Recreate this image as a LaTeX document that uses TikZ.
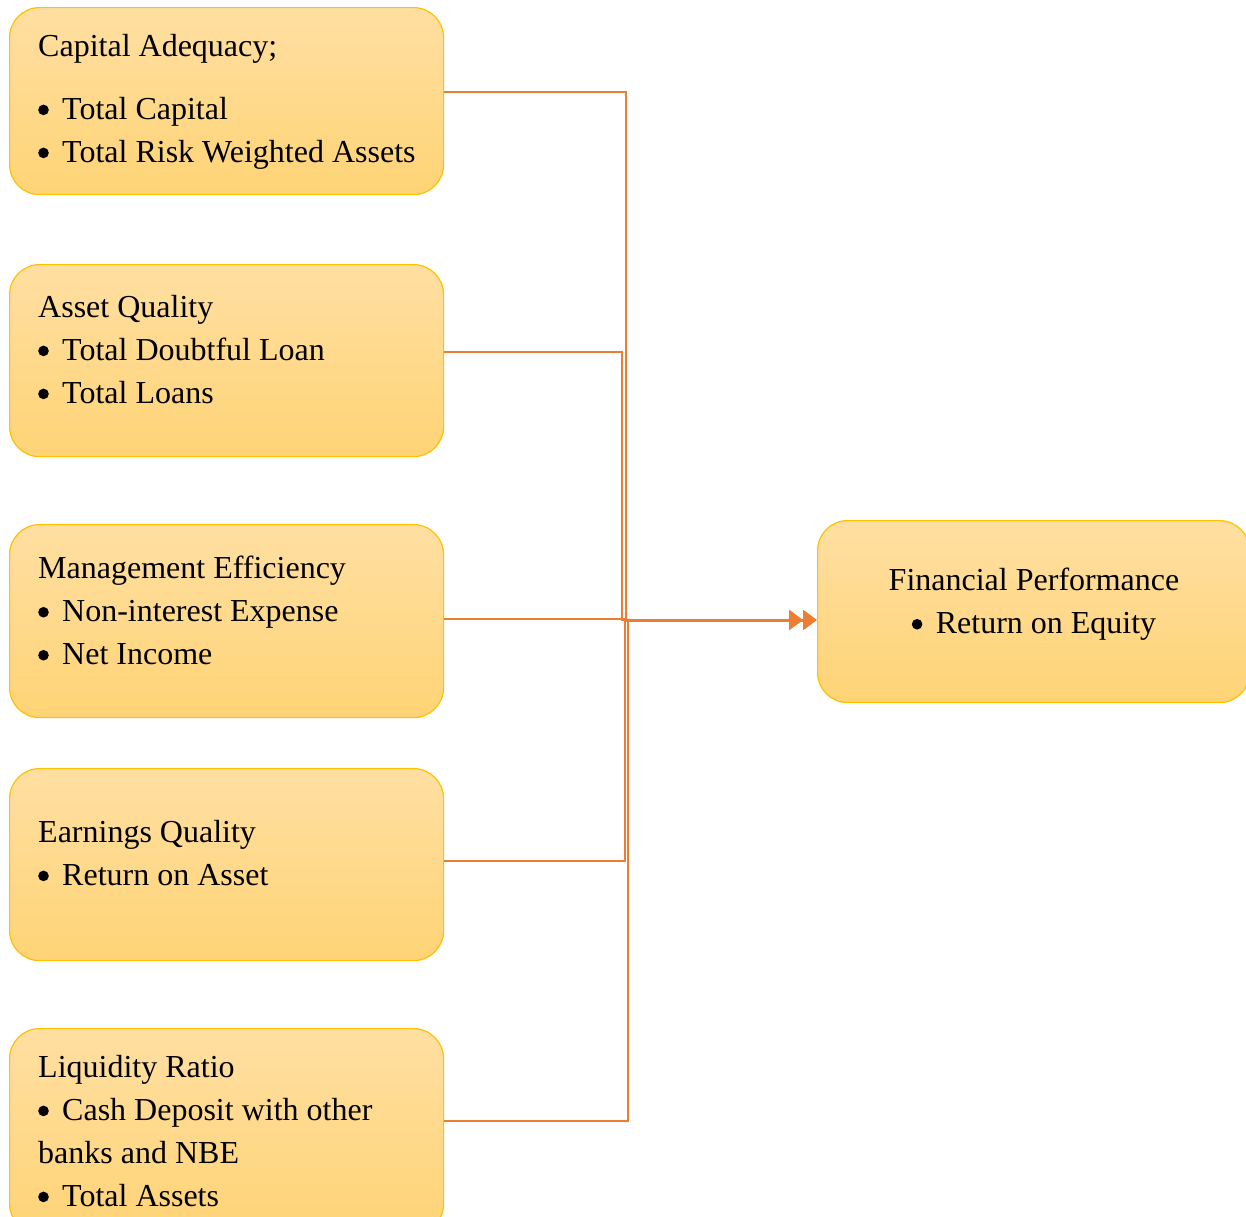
\documentclass[tikz,border=0pt]{standalone}
\usepackage{fontspec}
\setmainfont{Liberation Serif}
\usetikzlibrary{arrows.meta}
\definecolor{boxtop}{RGB}{255,223,162}
\definecolor{boxbot}{RGB}{255,212,118}
\definecolor{boxline}{RGB}{255,192,0}
\definecolor{conn}{RGB}{237,125,49}
\newcommand\bul{\makebox[24pt][l]{\tikz[baseline=0pt,x=1pt,y=1pt]\fill[black] (7.5pt,9.5pt) circle (5.3pt);}}
\tikzset{
  box/.style={rectangle, rounded corners=30pt, draw=boxline, line width=1.2pt,
    top color=boxtop, bottom color=boxbot, anchor=north west, inner sep=0pt},
  txt/.style={anchor=north west, align=left, inner sep=0pt,
    font=\fontsize{32}{43}\selectfont},
  link/.style={draw=conn, line width=1.1pt},
  trunk/.style={draw=conn, line width=3pt,
    -{Triangle[length=14pt,width=20pt]Triangle[length=14pt,width=20pt]}}
}
\begin{document}
\begin{tikzpicture}[x=1pt,y=-1pt]
\useasboundingbox (0,0) rectangle (1246,1216);
% boxes
\node[box, minimum width=434pt, minimum height=187pt] (c1) at (9,7) {};
\node[box, minimum width=434pt, minimum height=192pt] (c2) at (9,264) {};
\node[box, minimum width=434pt, minimum height=193pt] (c3) at (9,524) {};
\node[box, minimum width=434pt, minimum height=192pt] (c4) at (9,768) {};
\node[box, minimum width=434pt, minimum height=205pt] (c5) at (9,1028) {};
\node[box, minimum width=432pt, minimum height=182pt] (fin) at (817,520) {};
% texts
\node[txt] (t1) at (38,34) {Capital Adequacy;\\[20pt]\bul Total Capital\\\bul Total Risk Weighted Assets};
\node[txt] (t2) at (38,295) {Asset Quality\\\bul Total Doubtful Loan\\\bul Total Loans};
\node[txt] (t3) at (38,556) {Management Efficiency\\\bul Non-interest Expense\\\bul Net Income};
\node[txt] (t4) at (38,820) {Earnings Quality\\\bul Return on Asset};
\node[txt] (t5) at (38,1055) {Liquidity Ratio\\\bul Cash Deposit with other\\banks and NBE\\\bul Total Assets};
\node[txt, anchor=north, align=center] (t6) at (1034,568) {Financial Performance\\\bul Return on Equity};
% connectors
\coordinate (j) at (624,620);
\draw[link] (c1.east |- 0,92) -- (626,92) -- (626,620) -- (j);
\draw[link] (c2.east |- 0,352) -- (622,352) -- (622,620) -- (j);
\draw[link] (c3.east |- 0,619) -- (624,619) -- (j);
\draw[link] (c4.east |- 0,861) -- (625,861) -- (625,620) -- (j);
\draw[link] (c5.east |- 0,1121) -- (628,1121) -- (628,620) -- (j);
\draw[trunk] (j) -- (fin.west |- j);
\end{tikzpicture}
\end{document}
